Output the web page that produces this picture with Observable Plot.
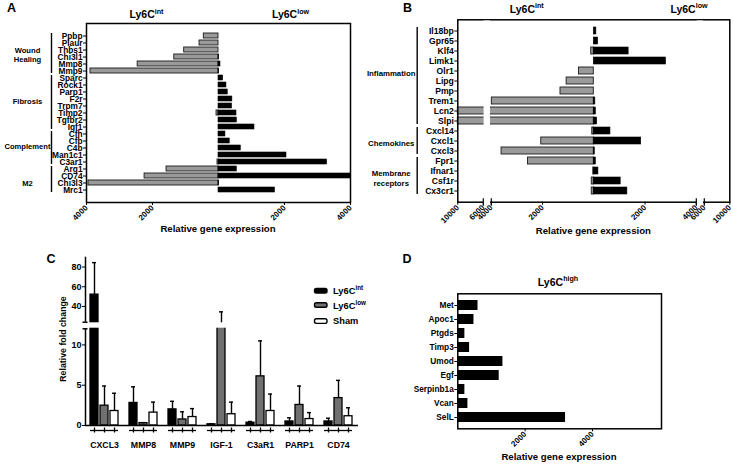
<!DOCTYPE html>
<html>
<head>
<meta charset="utf-8">
<script src="https://cdn.jsdelivr.net/npm/d3@7"></script>
<script src="https://cdn.jsdelivr.net/npm/@observablehq/plot@0.6"></script>
<style>
html,body{margin:0;padding:0;background:#fff;}
#wrap{position:relative;width:733px;height:465px;overflow:hidden;background:#fff;}
#wrap svg{position:absolute;left:0;top:0;}
</style>
</head>
<body>
<div id="wrap"></div>
<script>
// ================= DATA =================
// Panel A
const genesA = ["Ppbp","Plaur","Thbs1","Chi3l1","Mmp8","Mmp9","Sparc","Rock1","Parp1","F2r","Trpm7","Timp2","Tgfbr2","Igf1","Cfh","Cfb","C4b","Man1c1","C3ar1","Arg1","CD74","Chi3l3","Mrc1"];
const ly6cIntA = [445,575,1040,1340,2450,3880,0,0,0,0,0,60,0,0,0,0,0,0,30,1575,2240,3940,0];
const ly6cLowA = [0,0,0,20,60,20,140,240,280,420,410,545,555,1090,210,340,675,2060,3290,555,4000,20,1710];
const groupNamesA = ["Wound\nHealing","Fibrosis","Complement","M2"];
const groupFirstA = ["Ppbp","Sparc","Cfh","Arg1"];
const groupLastA = ["Mmp9","Igf1","C3ar1","Mrc1"];
const groupLabelRowA = ["Chi3l1","F2r","C4b","Chi3l3"];
const ticksA = [-4000,-2000,2000,4000];

// Panel B
const genesB = ["Il18bp","Gpr65","Klf4","Limk1","Olr1","Lipg","Pmp","Trem1","Lcn2","Slpi","Cxcl14","Cxcl1","Cxcl3","Fpr1","Ifnar1","Csf1r","Cx3cr1"];
const ly6cIntB = [0,0,100,0,580,1060,1300,3980,10000,10000,60,2050,3600,2570,20,80,80];
const ly6cLowB = [100,170,1360,2820,0,0,0,60,80,130,650,1850,40,80,180,1050,1310];
const groupNamesB = ["Inflammation","Chemokines","Membrane\nreceptors"];
const groupFirstB = ["Il18bp","Cxcl14","Fpr1"];
const groupLastB = ["Slpi","Cxcl3","Cx3cr1"];
const groupLabelRowB = ["Olr1","Cxcl1","Ifnar1"];
const breakDomainB = [-10000,-6000,-4000,0,4000,6000,10000];
const ticksB = [-10000,-6000,-4000,-2000,2000,4000,6000,10000];
const gapStartB = [-6000,4000];
const gapEndB = [-4000,6000];

// Panel C
const genesC = ["CXCL3","MMP8","MMP9","IGF-1","C3aR1","PARP1","CD74"];
const seriesC = ["Ly6Cint","Ly6Clow","Sham"];
const meanIntC = [52,2.8,2.0,0.15,0.35,0.5,0.5];
const errIntC  = [84.5,4.8,3.0,0.2,0.5,0.95,0.9];
const meanLowC = [2.46,0.3,0.75,18,6.1,2.55,3.4];
const errLowC  = [4.9,0.35,1.7,34.5,10.5,4.9,5.6];
const meanShamC = [1.8,1.6,1.05,1.4,1.8,0.8,1.15];
const errShamC  = [4.0,2.9,2.1,2.9,3.9,1.6,2.2];
const breakDomainC = [0,12,24,90];
const ticksC = [0,5,10,40,60,80];
const axisSegLoC = [0,24];
const axisSegHiC = [12,90];

// Panel D
const genesD = ["Met","Apoc1","Ptgds","Timp3","Umod","Egf","Serpinb1a","Vcan","SelL"];
const ly6cHighD = [600,480,210,350,1340,1230,210,300,3200];
const ticksD = [2000,4000];

// ================= LAYOUT / STYLE =================
const W = 733, H = 465;
const FONT = "'Liberation Sans', Arial, Helvetica, sans-serif";
const GRAY = "#9a9a9a";
const GRAY_C = "#707070";
const wrap = document.getElementById("wrap");
function st(fs){ return {fontFamily: FONT, fontSize: fs + "px", fontWeight: "bold", background: "transparent", overflow: "visible"}; }
function xTickFont(svg, px){ d3.select(svg).selectAll('[aria-label^="x-axis"] text').style("font-size", px + "px"); }

// ---------- Panel A ----------
const rowsA = genesA.map((g,i) => ({gene: g, int: ly6cIntA[i], low: ly6cLowA[i]}));
const grpA = groupNamesA.map((n,i) => ({name: n, first: groupFirstA[i], last: groupLastA[i], row: groupLabelRowA[i]}));
const dyA = [-2.5, 2, -2, 0];
const plotA = Plot.plot({
  width: W, height: H,
  marginLeft: 86, marginRight: W - 350, marginTop: 23, marginBottom: H - 202,
  style: st(8.3),
  x: {domain: [-4000, 4000], ticks: ticksA, tickFormat: d => String(Math.abs(d)), tickRotate: -45, tickSize: 3, tickPadding: 1, label: null},
  y: {domain: genesA, padding: 0.35, tickSize: 3, tickPadding: 1, label: null},
  marks: [
    Plot.barX(rowsA, {y: "gene", x1: 0, x2: d => -d.int, fill: GRAY, stroke: "#1a1a1a", strokeWidth: 0.9}),
    Plot.barX(rowsA, {y: "gene", x1: 0, x2: "low", fill: "#000", stroke: "#000", strokeWidth: 0.6}),
    Plot.frame({stroke: "#000", strokeWidth: 1.5}),
    Plot.ruleX(grpA, {x: () => -4000, y1: "first", y2: "last", dx: -35, stroke: "#000", strokeWidth: 1.4}),
    ...grpA.map((g,i) => Plot.text([g], {y: "row", text: "name", frameAnchor: "left", dx: -59, dy: dyA[i], fontSize: 7.6, lineHeight: 1.2, textAnchor: "middle"}))
  ]
});
xTickFont(plotA, 8);
wrap.appendChild(plotA);

// ---------- Panel B (broken axis: d3 piecewise mapping into display units) ----------
const brkB = d3.scaleLinear().domain(breakDomainB).range([-136, -110.5, -102.5, 0, 102.5, 110.5, 136]);
const rowsB = genesB.map((g,i) => ({gene: g, int: ly6cIntB[i], low: ly6cLowB[i]}));
const grpB = groupNamesB.map((n,i) => ({name: n, first: groupFirstB[i], last: groupLastB[i], row: groupLabelRowB[i]}));
const gapsB = gapStartB.map((a,i) => ({a, b: gapEndB[i]}));
const dyB = [1.5, 1.5, 6.5];
const plotB = Plot.plot({
  width: W, height: H,
  marginLeft: 457.3, marginRight: W - 729.3, marginTop: 19.3, marginBottom: H - 201.7,
  style: st(8.6),
  x: {domain: [brkB(-10000), brkB(10000)], ticks: ticksB.map(v => brkB(v)), tickFormat: d => String(Math.abs(Math.round(brkB.invert(d)))), tickRotate: -45, tickSize: 3, tickPadding: 1, label: null},
  y: {domain: genesB, padding: 0.32, tickSize: 3, tickPadding: 1, label: null},
  marks: [
    Plot.barX(rowsB, {y: "gene", x1: 0, x2: d => brkB(-d.int), fill: GRAY, stroke: "#1a1a1a", strokeWidth: 0.9}),
    Plot.barX(rowsB, {y: "gene", x1: 0, x2: d => brkB(d.low), fill: "#000", stroke: "#000", strokeWidth: 0.6}),
    Plot.frame({stroke: "#000", strokeWidth: 1.5}),
    Plot.rect(gapsB, {x1: d => brkB(d.a), x2: d => brkB(d.b), fill: "#fff", insetTop: 1.2, insetBottom: -3, insetLeft: 0.8, insetRight: 0.8}),
    Plot.ruleX([...gapStartB, ...gapEndB], {x: d => brkB(d), insetTop: 179, insetBottom: -4, stroke: "#000", strokeWidth: 1.2}),
    Plot.ruleX(grpB, {x: () => brkB(-10000), y1: "first", y2: "last", dx: -40.6, stroke: "#000", strokeWidth: 1.4}),
    ...grpB.map((g,i) => Plot.text([g], {y: "row", text: "name", frameAnchor: "left", dx: -66.6, dy: dyB[i], fontSize: 7.8, lineHeight: 1.35, textAnchor: "middle"}))
  ]
});
xTickFont(plotB, 8);
wrap.appendChild(plotB);

// ---------- Panel C (bars, faceted by gene; broken y axis) ----------
const brkC = d3.scaleLinear().domain(breakDomainC).range([0, 96.7, 103.3, 168.3]);
const meansC = [meanIntC, meanLowC, meanShamC];
const errsC = [errIntC, errLowC, errShamC];
const rowsC = genesC.flatMap((g,i) => seriesC.map((s,j) => ({gene: g, series: s, mean: meansC[j][i], err: errsC[j][i]})));
const gapC = [{lo: axisSegHiC[0], hi: axisSegLoC[1]}];
const yC = {domain: [0, brkC(90)], range: [425, 256.7]};
const plotC = Plot.plot({
  width: W, height: H,
  marginLeft: 85, marginRight: W - 358, marginTop: 256.7, marginBottom: H - 430,
  style: st(8.75),
  facet: {data: rowsC, x: "gene", label: null},
  fx: {domain: genesC, paddingInner: 0.27, paddingOuter: 0.12, axis: null, label: null},
  x: {domain: seriesC, paddingInner: 0.22, paddingOuter: 0, axis: null},
  y: {...yC, axis: null},
  color: {domain: seriesC, range: ["#000", GRAY_C, "#fff"]},
  marks: [
    Plot.barY(rowsC, {x: "series", y1: 0, y2: d => brkC(d.mean), fill: "series", stroke: "#000", strokeWidth: 1.3}),
    Plot.ruleX(rowsC, {x: "series", y1: d => brkC(d.mean), y2: d => brkC(d.err), stroke: "#000", strokeWidth: 1.4}),
    Plot.tickY(rowsC, {x: "series", y: d => brkC(d.err), insetLeft: 2, insetRight: 2, stroke: "#000", strokeWidth: 1.4}),
    Plot.rect(gapC, {y1: d => brkC(d.lo), y2: d => brkC(d.hi), fill: "#fff", insetLeft: -6, insetRight: -6, insetTop: 0.6, insetBottom: 0.6}),
    Plot.ruleY(rowsC, {filter: d => d.series === "Ly6Clow", y: () => 0, dy: 5, stroke: "#000", strokeWidth: 1.3}),
    Plot.ruleX(rowsC, {x: "series", y1: () => 0, y2: () => 0, dy: 5, insetTop: -2.5, insetBottom: -2.5, stroke: "#000", strokeWidth: 1.3}),
    Plot.text(rowsC, {filter: d => d.series === "Ly6Clow", x: "series", y: () => 0, text: "gene", dy: 20})
  ]
});
wrap.appendChild(plotC);

// ---------- Panel C (broken y axis + baseline) ----------
const segC = axisSegLoC.map((lo,i) => ({lo, hi: axisSegHiC[i]}));
const plotCaxis = Plot.plot({
  width: W, height: H,
  marginLeft: 85, marginRight: W - 358, marginTop: 256.7, marginBottom: H - 425,
  style: st(9),
  x: {domain: [0, 1], axis: null},
  y: {...yC, ticks: ticksC.map(v => brkC(v)), tickFormat: d => String(Math.round(brkC.invert(d))), tickSize: 3, tickPadding: 1, label: null},
  marks: [
    Plot.ruleX(segC, {x: () => 0, y1: d => brkC(d.lo), y2: d => brkC(d.hi), stroke: "#000", strokeWidth: 1.5}),
    Plot.ruleY([axisSegHiC[0], axisSegLoC[1]], {y: d => brkC(d), x1: () => 0, x2: () => 0, insetLeft: -2.5, insetRight: -2.5, stroke: "#000", strokeWidth: 1.5}),
    Plot.ruleY([0], {stroke: "#000", strokeWidth: 1.5})
  ]
});
wrap.appendChild(plotCaxis);

// ---------- Panel D ----------
const rowsD = genesD.map((g,i) => ({gene: g, value: ly6cHighD[i]}));
const plotD = Plot.plot({
  width: W, height: H,
  marginLeft: 457.3, marginRight: W - 661, marginTop: 293.3, marginBottom: H - 428.3,
  style: st(8.3),
  x: {domain: [0, 6050], ticks: ticksD, tickFormat: d => String(d), tickRotate: -45, tickSize: 3, tickPadding: 1, label: null},
  y: {domain: genesD, padding: 0.3, tickSize: 3, tickPadding: 1, label: null},
  marks: [
    Plot.barX(rowsD, {y: "gene", x1: 0, x2: "value", fill: "#000"}),
    Plot.frame({stroke: "#000", strokeWidth: 1.5})
  ]
});
xTickFont(plotD, 8);
wrap.appendChild(plotD);

// ---------- Annotations: panel letters, headers, axis titles, legend ----------
const ov = d3.create("svg").attr("width", W).attr("height", H)
  .style("font-family", FONT).style("font-weight", "bold");
function txt(x, y, base, sup, size, anchor = "middle", rotate = 0) {
  const t = ov.append("text").attr("x", x).attr("y", y).attr("font-size", size).attr("text-anchor", anchor).attr("fill", "#000");
  if (rotate) t.attr("transform", `rotate(${rotate},${x},${y})`);
  t.append("tspan").text(base);
  if (sup) t.append("tspan").attr("dy", -size * 0.42).attr("font-size", size * 0.68).text(sup);
  return t;
}
txt(7, 11.5, "A", null, 12.5, "start");
txt(403, 12, "B", null, 12.5, "start");
txt(46.5, 263, "C", null, 12.5, "start");
txt(402.5, 263, "D", null, 12.5, "start");
txt(146.5, 18.3, "Ly6C", "int", 10.5);
txt(290.5, 18.3, "Ly6C", "low", 10.5);
txt(526.7, 12.8, "Ly6C", "int", 10.5);
txt(689, 12.8, "Ly6C", "low", 10.5);
txt(558, 285.7, "Ly6C", "high", 10.5);
txt(218, 231.7, "Relative gene expression", null, 9.6);
txt(593.3, 233.5, "Relative gene expression", null, 9.6);
txt(559, 460, "Relative gene expression", null, 9.6);
txt(66, 339, "Relative fold change", null, 8.8, "middle", -90);
// legend (panel C)
const legFill = ["#000", GRAY_C, "#fff"];
const legSup = ["int", "low", null];
const legBase = ["Ly6C", "Ly6C", "Sham"];
const legY = [288.5, 302.7, 318.8];
const legBaseline = [294.2, 308.5, 324.3];
legFill.forEach((f, i) => {
  ov.append("rect").attr("x", 314.5).attr("y", legY[i]).attr("width", 12.5).attr("height", 4.6)
    .attr("rx", 1.8).attr("fill", f).attr("stroke", "#000").attr("stroke-width", 1.4);
  txt(333, legBaseline[i], legBase[i], legSup[i], 9.3, "start");
});
wrap.appendChild(ov.node());
</script>
</body>
</html>
